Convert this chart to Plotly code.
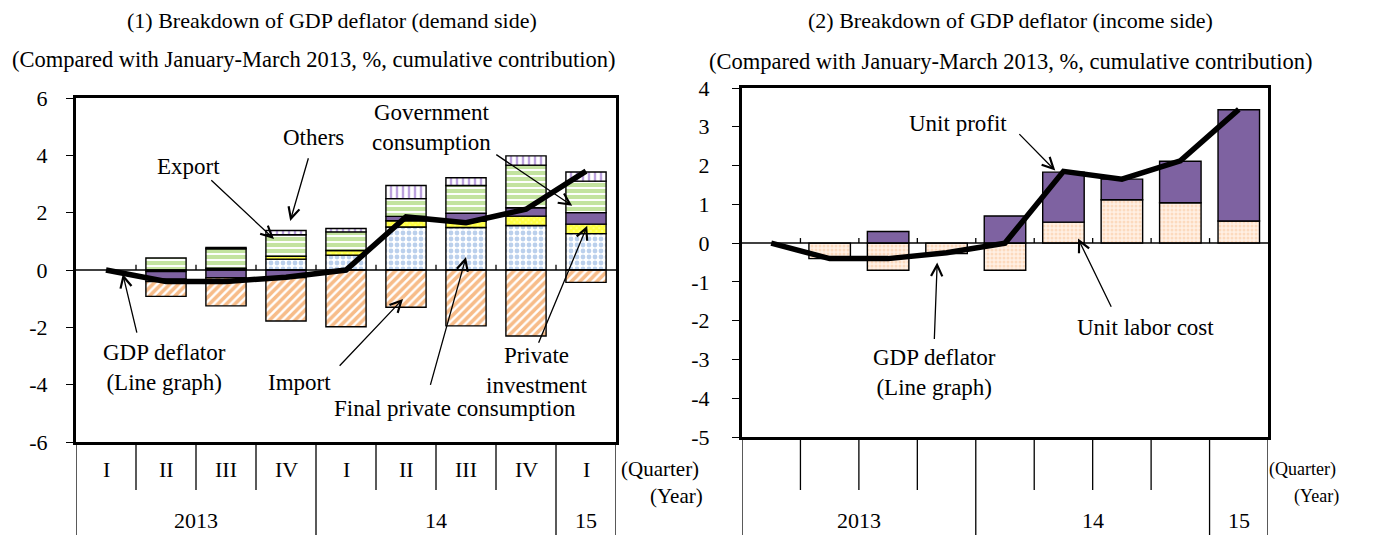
import plotly.graph_objects as go

# ---------------- data ----------------
quarters = ["I", "II", "III", "IV", "I", "II", "III", "IV", "I"]
years = ["2013", "14", "15"]
year_span = [(0, 3), (4, 7), (8, 8)]

# (1) demand side, cumulative contribution (% pts)
final_private_consumption = [0, -0.05, 0.03, 0.38, 0.52, 1.50, 1.48, 1.55, 1.27]
private_investment = [0, 0, 0.03, 0.10, 0.16, 0.22, 0.22, 0.33, 0.33]
government_consumption = [0, -0.27, -0.27, -0.26, 0, 0.15, 0.28, 0.29, 0.40]
export = [0, 0.42, 0.68, 0.75, 0.65, 0.62, 0.97, 1.49, 1.10]
others = [0, -0.08, 0.05, 0.15, 0.12, 0.46, 0.27, 0.32, 0.32]
imports = [0, -0.52, -0.98, -1.52, -1.98, -1.30, -1.95, -2.30, -0.43]
gdp_deflator = [0, -0.40, -0.40, -0.25, 0.0, 1.85, 1.65, 2.12, 3.45]

# (2) income side
unit_labor_cost = [0, -0.40, -0.70, -0.27, -0.70, 0.54, 1.12, 1.04, 0.57]
unit_profit = [0, 0, 0.30, 0, 0.70, 1.29, 0.53, 1.07, 2.87]

left_ticks = [-6, -4, -2, 0, 2, 4, 6]
right_ticks = [-5, -4, -3, -2, -1, 0, 1, 2, 3, 4]

# ---------------- styling ----------------
OFF = 8                      # page body margin
W, H = 1374 - OFF, 535 - OFF
FONT = "Liberation Serif, Times New Roman, serif"
x = list(range(len(quarters)))

def px(v):
    return (v - OFF) / W

def py(v):
    return 1 - (v - OFF) / H

def nz(a):
    return [v if v != 0 else None for v in a]

L_X = [px(76), px(616)]
L_Y = [py(442), py(98)]
R_X = [px(742), px(1268)]
R_Y = [py(437), py(88)]

fig = go.Figure()
edge = dict(color="black", width=1.4)

def bar(y, name, xa, ya, pattern=None, color=None, width=0.67):
    m = dict(line=edge)
    if pattern:
        m["pattern"] = pattern
        m["color"] = "white"
    else:
        m["color"] = color
    fig.add_trace(go.Bar(x=x, y=nz(y), name=name, marker=m, width=width,
                         xaxis=xa, yaxis=ya, showlegend=False, hoverinfo="y+name"))

bar(final_private_consumption, "Final private consumption", "x", "y",
    pattern=dict(shape=".", fgcolor="#77A2DA", bgcolor="white", size=6, solidity=0.5, fillmode="overlay"))
bar(private_investment, "Private investment", "x", "y",
    pattern=dict(shape="x", fgcolor="#FFFF00", bgcolor="#FFFF80", size=4, solidity=0.75, fillmode="overlay"))
bar(government_consumption, "Government consumption", "x", "y", color="#7E62A1")
bar(export, "Export", "x", "y",
    pattern=dict(shape="-", fgcolor="#88C840", bgcolor="white", size=6, solidity=0.68, fillmode="overlay"))
bar(others, "Others", "x", "y",
    pattern=dict(shape="|", fgcolor="#7A46BE", bgcolor="white", size=6, solidity=0.4, fillmode="overlay"))
bar(imports, "Import", "x", "y",
    pattern=dict(shape="/", fgcolor="#F07A14", bgcolor="white", size=6, solidity=0.6, fillmode="overlay"))
fig.add_trace(go.Scatter(x=x, y=gdp_deflator, mode="lines", line=dict(color="black", width=5.5),
                         xaxis="x", yaxis="y", showlegend=False, name="GDP deflator"))

bar(unit_labor_cost, "Unit labor cost", "x2", "y2",
    pattern=dict(shape=".", fgcolor="#F9C398", bgcolor="#FFF0E4", size=4, solidity=0.45, fillmode="overlay"),
    width=0.71)
bar(unit_profit, "Unit profit", "x2", "y2", color="#7E62A1", width=0.71)
fig.add_trace(go.Scatter(x=x, y=gdp_deflator, mode="lines", line=dict(color="black", width=5.5),
                         xaxis="x2", yaxis="y2", showlegend=False, name="GDP deflator"))

axcommon = dict(showline=True, linecolor="black", linewidth=3, mirror=True,
                showgrid=False, zeroline=False, automargin=False)
fig.update_layout(
    width=W, height=H, margin=dict(l=0, r=0, t=0, b=0, autoexpand=False),
    paper_bgcolor="white", plot_bgcolor="white",
    barmode="relative", bargap=0.33,
    font=dict(family=FONT, size=22, color="black"),
    xaxis=dict(domain=L_X, range=[-0.5, 8.5], showticklabels=False, ticks="", anchor="y", **axcommon),
    yaxis=dict(domain=L_Y, range=[-6, 6], tickvals=left_ticks, ticktext=[str(v) for v in left_ticks],
               ticks="outside", ticklen=7, tickwidth=1.3,
               tickcolor="black", ticklabelstandoff=14, anchor="x", tickfont=dict(size=22), **axcommon),
    xaxis2=dict(domain=R_X, range=[-0.5, 8.5], showticklabels=False, ticks="", anchor="y2", **axcommon),
    yaxis2=dict(domain=R_Y, range=[-5, 4], tickvals=right_ticks, ticktext=[str(v) for v in right_ticks],
                ticks="outside", ticklen=7, tickwidth=1.3,
                tickcolor="black", ticklabelstandoff=18, anchor="x2", tickfont=dict(size=22), **axcommon),
)

shapes = []
annotations = []

def text(xr, yr, xv, yv, t, size=22):
    return dict(xref=xr, yref=yr, x=xv, y=yv, text=t, showarrow=False, xanchor="center",
                yanchor="middle", font=dict(size=size))

# zero lines & small boundary ticks
for xa, ya, tk in (("x", "y", 0.18), ("x2", "y2", 0.13)):
    shapes.append(dict(type="line", xref=xa, yref=ya, x0=-0.5, x1=8.5, y0=0, y1=0,
                       line=dict(color="black", width=1.5)))
    for i in range(len(quarters) - 1):
        shapes.append(dict(type="line", xref=xa, yref=ya, x0=i + 0.5, x1=i + 0.5, y0=0, y1=tk,
                           line=dict(color="black", width=1.3)))

# category table below each chart
year_edges = {-0.5} | {b + 0.5 for _, b in year_span}
for xa, ybot, show_q, qx, yx, qs in (("x", L_Y[0], True, 660, 676, 21), ("x2", R_Y[0], False, 1302, 1316, 18)):
    for i in range(len(quarters) + 1):
        xe = i - 0.5
        y1 = py(535) if xe in year_edges else py(490)
        shapes.append(dict(type="line", xref=xa, yref="paper", x0=xe, x1=xe, y0=ybot, y1=y1,
                           line=dict(color="black", width=1.3)))
    if show_q:
        for i, q in enumerate(quarters):
            annotations.append(text(xa, "paper", i, py(469), q, 22))
    for yr, (a, b) in zip(years, year_span):
        annotations.append(text(xa, "paper", (a + b) / 2, py(520), yr, 22))
    annotations.append(text("paper", "paper", px(qx), py(469), "(Quarter)", qs))
    annotations.append(text("paper", "paper", px(yx), py(496), "(Year)", qs))

# titles
annotations += [
    text("paper", "paper", px(332), py(20), "(1) Breakdown of GDP deflator (demand side)", 22),
    text("paper", "paper", px(314), py(60), "(Compared with January-March 2013, %, cumulative contribution)", 22.5),
    text("paper", "paper", px(1010), py(20), "(2) Breakdown of GDP deflator (income side)", 22),
    text("paper", "paper", px(1011), py(61), "(Compared with January-March 2013, %, cumulative contribution)", 22.5),
]

# callouts: (axis pair, text, text pos, arrow tail, arrow head)
callouts = [
    ("x", "y", "Export", (1.38, 3.6), (1.73, 3.18), (2.8, 1.08)),
    ("x", "y", "Others", (3.45, 4.62), (3.38, 3.95), (3.07, 1.71)),
    ("x", "y", "Government<br>consumption", (5.43, 4.97), (6.48, 4.06), (7.77, 2.24)),
    ("x", "y", "Private<br>investment", (7.18, -3.5), (7.2, -2.59), (8.02, 1.54)),
    ("x", "y", "Final private consumption", (5.82, -4.83), (5.4, -4.06), (6.0, 0.45)),
    ("x", "y", "Import", (3.23, -3.92), (3.87, -3.39), (4.95, -1.01)),
    ("x", "y", "GDP deflator<br>(Line graph)", (0.98, -3.4), (0.52, -2.24), (0.28, -0.14)),
    ("x2", "y2", "Unit profit", (3.2, 3.09), (4.22, 2.85), (4.86, 1.87)),
    ("x2", "y2", "Unit labor cost", (6.41, -2.17), (5.83, -1.68), (5.25, 0.12)),
    ("x2", "y2", "GDP deflator<br>(Line graph)", (2.8, -3.33), (2.79, -2.51), (2.84, -0.5)),
]
for xa, ya, txt, tp, tail, head in callouts:
    annotations.append(text(xa, ya, tp[0], tp[1], txt, 23))
    annotations.append(dict(xref=xa, yref=ya, x=head[0], y=head[1], axref=xa, ayref=ya,
                            ax=tail[0], ay=tail[1], text="", showarrow=True, arrowhead=5,
                            arrowsize=1.7, arrowwidth=1.3, arrowcolor="black", standoff=0))

fig.update_layout(shapes=shapes, annotations=annotations)
fig.write_html("out.html")
